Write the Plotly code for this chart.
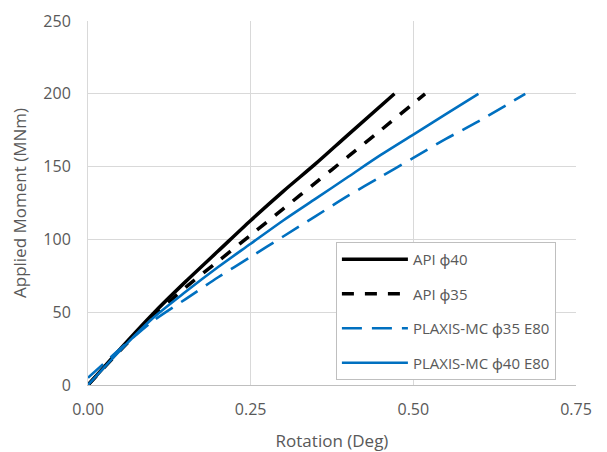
import plotly.graph_objects as go

# Data
api40_x = [0.00, 0.05, 0.10, 0.15, 0.20, 0.25, 0.30, 0.35, 0.40, 0.471]
api40_y = [0, 25, 49, 71, 92, 113, 133, 152, 172, 200]

api35_x = [0.00, 0.05, 0.10, 0.15, 0.20, 0.25, 0.30, 0.35, 0.40, 0.45, 0.518]
api35_y = [0, 24, 47, 67, 85, 103, 121, 139, 157, 175, 200]

plx35_x = [0.00, 0.05, 0.10, 0.15, 0.20, 0.25, 0.30, 0.35, 0.40, 0.45, 0.50, 0.55, 0.60, 0.672]
plx35_y = [5, 25, 44, 59, 74, 88, 102, 116, 130, 143, 156, 169, 181, 200]

plx40_x = [0.00, 0.05, 0.10, 0.15, 0.20, 0.25, 0.30, 0.35, 0.40, 0.45, 0.50, 0.55, 0.60]
plx40_y = [0, 24, 46, 64, 81, 97, 113, 128, 143, 158, 172, 186, 200]

x_ticks = [0.00, 0.25, 0.50, 0.75]
x_tick_labels = ["0.00", "0.25", "0.50", "0.75"]
y_ticks = [0, 50, 100, 150, 200, 250]

names = ["API \u03d540", "API \u03d535", "PLAXIS-MC \u03d535 E80", "PLAXIS-MC \u03d540 E80"]

BLUE = "#0070C0"
GREY = "#595959"
FONT = "Open Sans, Noto Sans, sans-serif"

fig = go.Figure()
fig.add_trace(go.Scatter(x=api40_x, y=api40_y, mode="lines", name=names[0], legendgroup="a",
                         line=dict(color="black", width=3.5, shape="spline", smoothing=0.8)))
fig.add_trace(go.Scatter(x=api35_x, y=api35_y, mode="lines", name=names[1], legendgroup="b",
                         line=dict(color="black", width=3.5, dash="12px,11px", shape="spline", smoothing=0.8)))
fig.add_trace(go.Scatter(x=plx35_x, y=plx35_y, mode="lines", name=names[2], legendgroup="c",
                         line=dict(color=BLUE, width=2.6, dash="20px,10px", shape="spline", smoothing=0.8)))
fig.add_trace(go.Scatter(x=plx40_x, y=plx40_y, mode="lines", name=names[3], legendgroup="d",
                         line=dict(color=BLUE, width=2.6, shape="spline", smoothing=0.8)))

# The page body has an 8px margin, so the figure is sized to fit inside the window
fig.update_layout(
    width=599, height=444,
    margin=dict(l=80, r=31, t=13, b=67),
    paper_bgcolor="white", plot_bgcolor="white",
    font=dict(family=FONT, color=GREY, size=15),
    showlegend=True,
    legend=dict(
        x=0.508, y=0.393, xanchor="left", yanchor="top",
        bgcolor="white", bordercolor="#bfbfbf", borderwidth=1,
        font=dict(family=FONT, size=15, color=GREY),
        traceorder="grouped", tracegroupgap=12,
        itemwidth=66,
    ),
    xaxis=dict(
        range=[0, 0.75], tickvals=x_ticks, ticktext=x_tick_labels,
        showgrid=True, gridcolor="#d9d9d9", gridwidth=1,
        zeroline=False, showline=True, linecolor="#bfbfbf", linewidth=1,
        ticks="", ticklen=0, ticklabelstandoff=10, automargin=False,
        title=dict(text="Rotation (Deg)", font=dict(size=17, color=GREY), standoff=15),
        tickfont=dict(size=16, color=GREY),
    ),
    yaxis=dict(
        range=[0, 250], tickvals=y_ticks,
        showgrid=True, gridcolor="#d9d9d9", gridwidth=1,
        zeroline=False, showline=True, linecolor="#d9d9d9", linewidth=1,
        ticks="", ticklen=0, ticklabelstandoff=13, automargin=False,
        title=dict(text="Applied Moment (MNm)", font=dict(size=17, color=GREY), standoff=12),
        tickfont=dict(size=16, color=GREY),
    ),
)

fig.write_html("out.html")
